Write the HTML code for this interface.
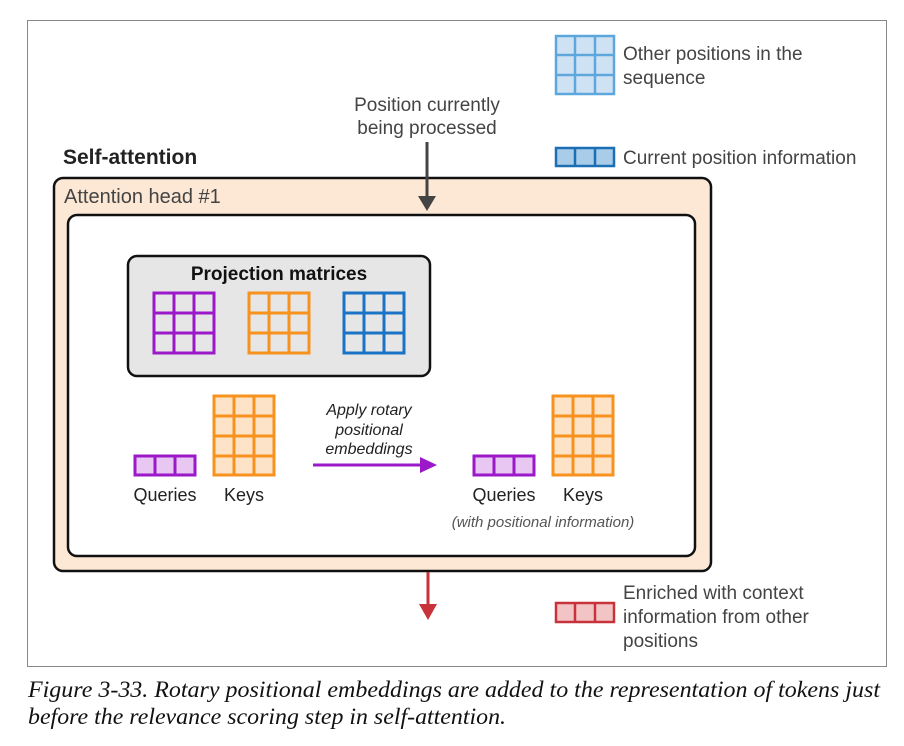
<!DOCTYPE html>
<html><head><meta charset="utf-8"><style>
html,body{margin:0;padding:0;background:#fff;width:904px;height:746px;overflow:hidden}
svg{display:block}
text{font-family:"Liberation Sans",sans-serif;}
</style></head><body>
<svg width="904" height="746" viewBox="0 0 904 746" xmlns="http://www.w3.org/2000/svg">
<rect x="27.5" y="20.5" width="859" height="646" fill="#fff" stroke="#888" stroke-width="1"/>
<g stroke="#5ea7dd" stroke-width="2.5" fill="none">
<rect x="556" y="36" width="58" height="58" fill="#cfe2f3"/>
<line x1="575" y1="36" x2="575" y2="94"/><line x1="595" y1="36" x2="595" y2="94"/>
<line x1="556" y1="55" x2="614" y2="55"/><line x1="556" y1="75" x2="614" y2="75"/>
</g>
<g stroke="#1a6fb5" stroke-width="2.5">
<rect x="556" y="148" width="58" height="18" fill="#a9cce8"/>
<line x1="575" y1="148" x2="575" y2="166"/><line x1="595" y1="148" x2="595" y2="166"/>
</g>
<g stroke="#c8323a" stroke-width="2.5">
<rect x="556" y="603" width="58" height="19" fill="#f2c4c6"/>
<line x1="575" y1="603" x2="575" y2="622"/><line x1="595" y1="603" x2="595" y2="622"/>
</g>
<g font-size="19" fill="#444">
<text x="623" y="60">Other positions in the</text>
<text x="623" y="84">sequence</text>
<text x="623" y="164">Current position information</text>
<text x="623" y="599">Enriched with context</text>
<text x="623" y="623">information from other</text>
<text x="623" y="647">positions</text>
</g>
<text x="427" y="111" font-size="19" fill="#444" text-anchor="middle">Position currently</text>
<text x="427" y="134" font-size="19" fill="#444" text-anchor="middle">being processed</text>
<text x="63" y="164" font-size="21" font-weight="bold" fill="#222">Self-attention</text>
<rect x="54" y="178" width="657" height="393" rx="9" fill="#fce8d4" stroke="#111" stroke-width="2.5"/>
<text x="64" y="203" font-size="20" fill="#444">Attention head #1</text>
<rect x="68" y="215" width="627" height="341" rx="9" fill="#fff" stroke="#111" stroke-width="2.5"/>
<line x1="427" y1="142" x2="427" y2="198" stroke="#444" stroke-width="3"/>
<polygon points="418,196 436,196 427,211" fill="#444"/>
<rect x="128" y="256" width="302" height="120" rx="9" fill="#e6e6e6" stroke="#111" stroke-width="2.5"/>
<text x="279" y="280" font-size="19" font-weight="bold" fill="#111" text-anchor="middle">Projection matrices</text>
<g stroke="#9b19c9" stroke-width="3" fill="none">
<rect x="154" y="293" width="60" height="60"/>
<line x1="174" y1="293" x2="174" y2="353"/><line x1="194" y1="293" x2="194" y2="353"/>
<line x1="154" y1="313" x2="214" y2="313"/><line x1="154" y1="333" x2="214" y2="333"/>
</g>
<g stroke="#f7921e" stroke-width="3" fill="none">
<rect x="249" y="293" width="60" height="60"/>
<line x1="269" y1="293" x2="269" y2="353"/><line x1="289" y1="293" x2="289" y2="353"/>
<line x1="249" y1="313" x2="309" y2="313"/><line x1="249" y1="333" x2="309" y2="333"/>
</g>
<g stroke="#1a73c4" stroke-width="3" fill="none">
<rect x="344" y="293" width="60" height="60"/>
<line x1="364" y1="293" x2="364" y2="353"/><line x1="384" y1="293" x2="384" y2="353"/>
<line x1="344" y1="313" x2="404" y2="313"/><line x1="344" y1="333" x2="404" y2="333"/>
</g>
<g stroke="#9b19c9" stroke-width="3">
<rect x="135" y="456" width="60" height="19" fill="#e8c8f3"/>
<line x1="155" y1="456" x2="155" y2="475"/><line x1="175" y1="456" x2="175" y2="475"/>
</g>
<g stroke="#f7921e" stroke-width="3">
<rect x="214" y="396" width="60" height="79" fill="#fde4c8"/>
<line x1="234" y1="396" x2="234" y2="475"/><line x1="254" y1="396" x2="254" y2="475"/>
<line x1="214" y1="416" x2="274" y2="416"/><line x1="214" y1="436" x2="274" y2="436"/><line x1="214" y1="456" x2="274" y2="456"/>
</g>
<text x="165" y="501" font-size="18" fill="#222" text-anchor="middle">Queries</text>
<text x="244" y="501" font-size="18" fill="#222" text-anchor="middle">Keys</text>
<line x1="313" y1="465" x2="422" y2="465" stroke="#9b19c9" stroke-width="3"/>
<polygon points="420,457 437,465 420,473" fill="#9b19c9"/>
<g font-size="16" font-style="italic" fill="#222" text-anchor="middle">
<text x="369" y="415">Apply rotary</text>
<text x="369" y="435">positional</text>
<text x="369" y="454">embeddings</text>
</g>
<g stroke="#9b19c9" stroke-width="3">
<rect x="474" y="456" width="60" height="19" fill="#e8c8f3"/>
<line x1="494" y1="456" x2="494" y2="475"/><line x1="514" y1="456" x2="514" y2="475"/>
</g>
<g stroke="#f7921e" stroke-width="3">
<rect x="553" y="396" width="60" height="79" fill="#fde4c8"/>
<line x1="573" y1="396" x2="573" y2="475"/><line x1="593" y1="396" x2="593" y2="475"/>
<line x1="553" y1="416" x2="613" y2="416"/><line x1="553" y1="436" x2="613" y2="436"/><line x1="553" y1="456" x2="613" y2="456"/>
</g>
<text x="504" y="501" font-size="18" fill="#222" text-anchor="middle">Queries</text>
<text x="583" y="501" font-size="18" fill="#222" text-anchor="middle">Keys</text>
<text x="543" y="527" font-size="15" font-style="italic" fill="#555" text-anchor="middle">(with positional information)</text>
<line x1="428" y1="572" x2="428" y2="606" stroke="#c8323a" stroke-width="3"/>
<polygon points="419,604 437,604 428,620" fill="#c8323a"/>
<text x="28" y="697" font-size="23" font-style="italic" fill="#111" textLength="852" lengthAdjust="spacingAndGlyphs" style="font-family:'Liberation Serif',serif">Figure 3-33. Rotary positional embeddings are added to the representation of tokens just</text>
<text x="28" y="724" font-size="23" font-style="italic" fill="#111" textLength="478" lengthAdjust="spacingAndGlyphs" style="font-family:'Liberation Serif',serif">before the relevance scoring step in self-attention.</text>
</svg>
</body></html>
